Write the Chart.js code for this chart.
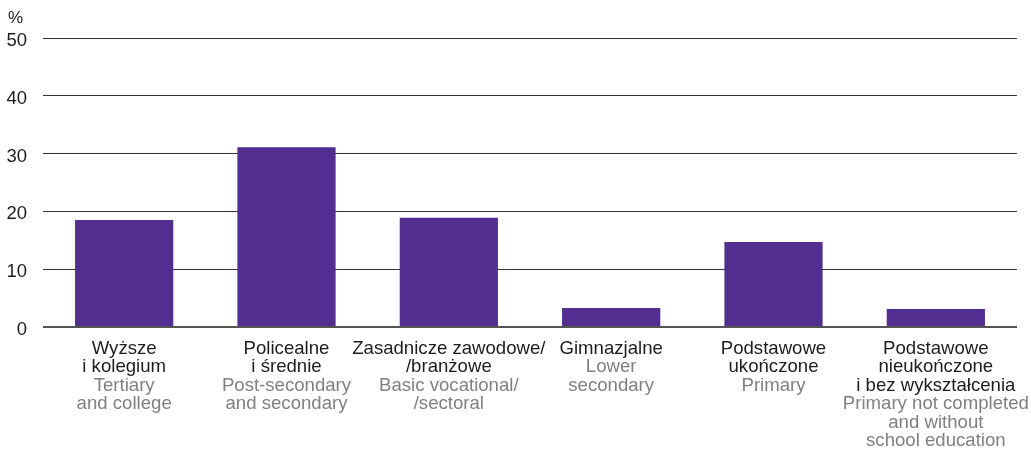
<!DOCTYPE html>
<html>
<head>
<meta charset="utf-8">
<script src="https://cdn.jsdelivr.net/npm/chart.js@4"></script>
<style>
  html, body { margin: 0; padding: 0; background: #fff; }
  #wrap { width: 1031px; height: 449px; }
</style>
</head>
<body>
<div id="wrap"><canvas id="chart"></canvas></div>
<script>
'use strict'

// polish names (black) and english names (grey), one array of lines per bar
let plLabels = [
    ['Wyższe', 'i kolegium'],
    ['Policealne', 'i średnie'],
    ['Zasadnicze zawodowe/', '/branżowe'],
    ['Gimnazjalne'],
    ['Podstawowe', 'ukończone'],
    ['Podstawowe', 'nieukończone', 'i bez wykształcenia']
];
let enLabels = [
    ['Tertiary', 'and college'],
    ['Post-secondary', 'and secondary'],
    ['Basic vocational/', '/sectoral'],
    ['Lower', 'secondary'],
    ['Primary'],
    ['Primary not completed', 'and without', 'school education']
];
let shares = [18.5, 31.1, 18.9, 3.3, 14.7, 3.1];
let yTicks = [0, 10, 20, 30, 40, 50];

Chart.defaults.font.family = '"Liberation Sans", Arial, sans-serif';

let canvasElem = document.getElementById('chart');

// draws the two-colour category labels under the bars and the % unit
let labelPlugin = {
    id: 'labelPlugin',
    afterDraw(chart) {
        let ctx = chart.ctx;
        let xScale = chart.scales.x;
        ctx.save();
        ctx.font = '18.6px "Liberation Sans", Arial, sans-serif';
        ctx.textAlign = 'center';
        ctx.textBaseline = 'alphabetic';
        for (let i = 0; i < plLabels.length; i++) {
            let x = xScale.getPixelForValue(i);
            let y = chart.chartArea.bottom + 26.5;
            for (let line of plLabels[i]) {
                ctx.fillStyle = '#1d1d1b';
                ctx.fillText(line, x, y);
                y += 18.5;
            }
            for (let line of enLabels[i]) {
                ctx.fillStyle = '#808080';
                ctx.fillText(line, x, y);
                y += 18.5;
            }
        }
        ctx.fillStyle = '#1d1d1b';
        ctx.textAlign = 'left';
        ctx.font = '17px "Liberation Sans", Arial, sans-serif';
        ctx.fillText('%', 8, 23);
        ctx.restore();
    }
};

new Chart(canvasElem, {
    type: 'bar',
    data: {
        labels: plLabels.map(l => l.join(' ')),
        datasets: [{
            data: shares,
            backgroundColor: '#512e8f',
            barPercentage: 0.605,
            categoryPercentage: 1
        }]
    },
    options: {
        responsive: true,
        maintainAspectRatio: false,
        animation: false,
        layout: {
            padding: { top: 38, bottom: 122, left: 0, right: 14 }
        },
        plugins: {
            legend: { display: false },
            tooltip: { enabled: false }
        },
        scales: {
            x: {
                display: false
            },
            y: {
                min: 0,
                max: 50,
                afterBuildTicks: (scale) => {
                    scale.ticks = yTicks.map(v => ({ value: v }));
                },
                afterFit: (scale) => {
                    scale.width = 43;
                },
                border: { display: false },
                grid: {
                    color: (c) => c.tick && c.tick.value === 0 ? '#555' : '#333',
                    lineWidth: (c) => c.tick && c.tick.value === 0 ? 2 : 1,
                    drawTicks: false
                },
                ticks: {
                    color: '#1d1d1b',
                    padding: 16,
                    labelOffset: 3,
                    font: { size: 18.5 }
                }
            }
        }
    },
    plugins: [labelPlugin]
});
</script>
</body>
</html>
